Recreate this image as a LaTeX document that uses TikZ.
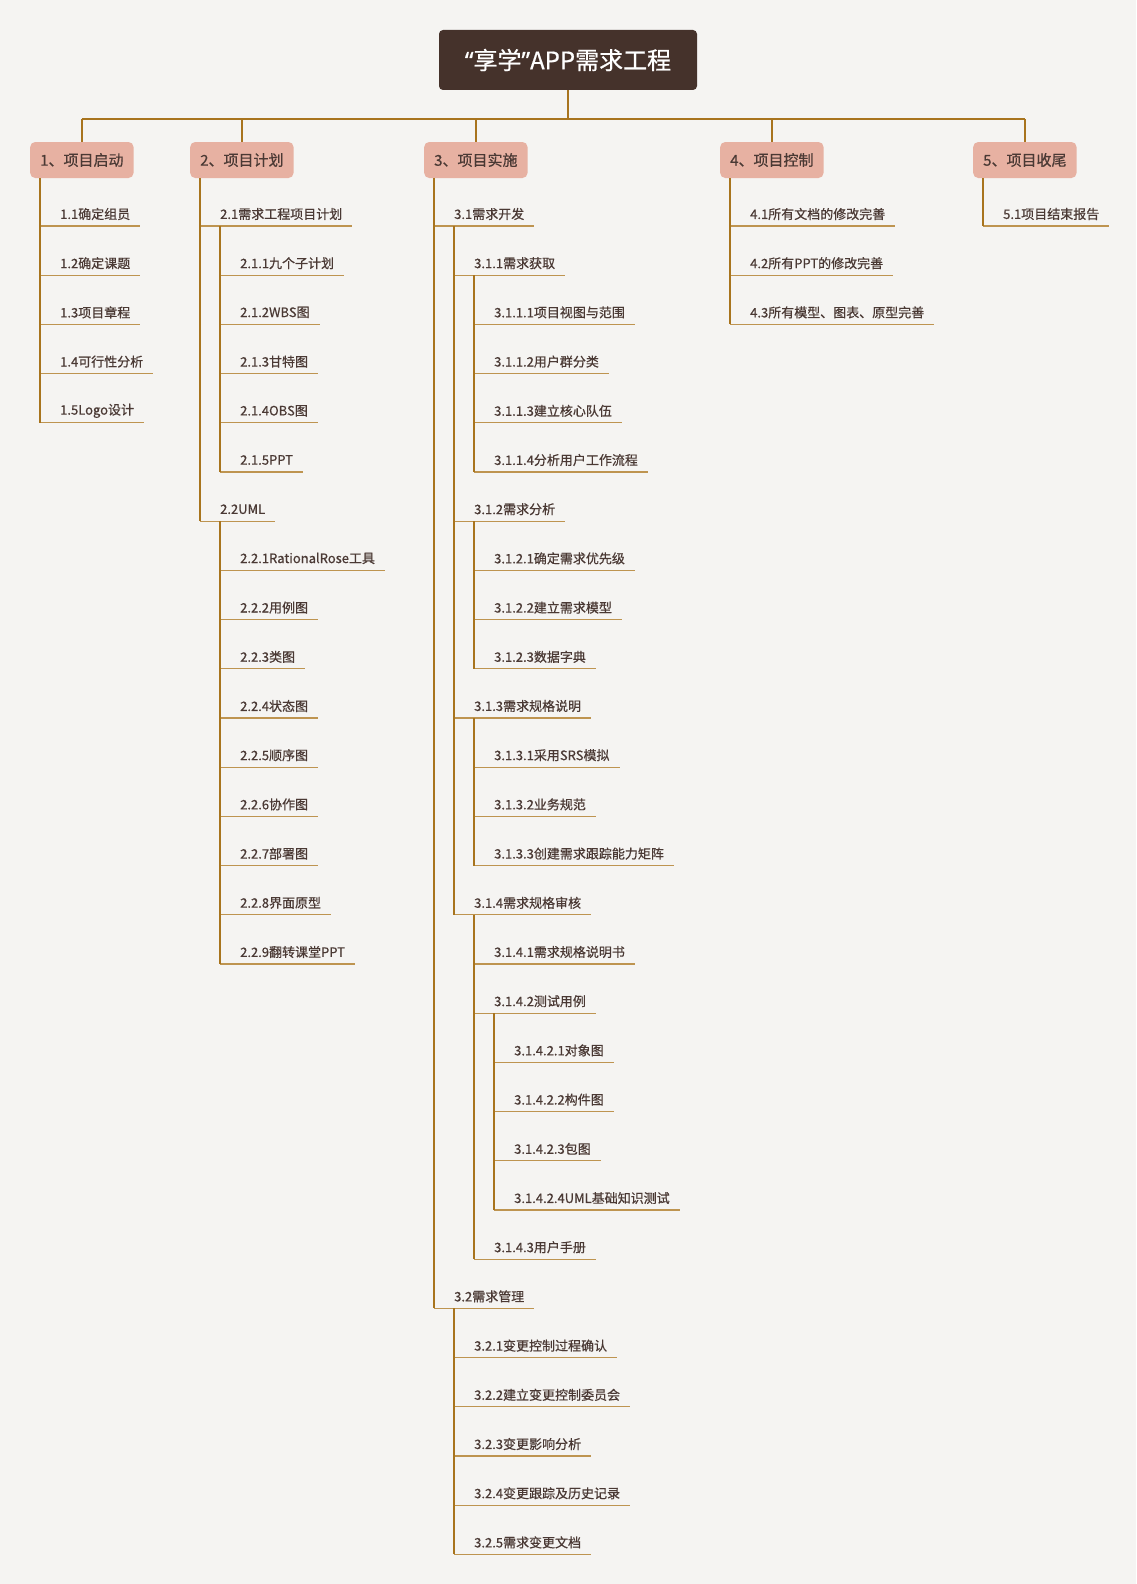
\documentclass[tikz,border=0pt]{standalone}
\usepackage{fontspec}
\setmainfont{Noto Sans CJK SC}[FakeBold=0.6]
\newfontfamily\quotefont{Noto Sans}[FakeBold=0.6]
\usetikzlibrary{calc}

\definecolor{paper}{HTML}{F5F4F2}
\definecolor{rootbrown}{HTML}{45322B}
\definecolor{boxpink}{HTML}{E7B1A2}
\definecolor{inkbrown}{HTML}{4A3934}
\definecolor{linegold}{HTML}{A8741E}
\definecolor{leafgold}{HTML}{BE9450}

\begin{document}
\begin{tikzpicture}[x=1pt,y=-1pt,
    rootbox/.style={fill=rootbrown,text=white,rounded corners=4pt,
      minimum width=258pt,minimum height=60pt,font=\fontsize{24}{28}\selectfont},
    topicbox/.style={fill=boxpink,text=inkbrown,rounded corners=5pt,anchor=west,
      minimum height=36pt,inner xsep=10pt,font=\fontsize{15}{18}\selectfont},
    item/.style={text=inkbrown,inner sep=0pt,anchor=west,font=\fontsize{13}{15}\selectfont},
    trunk/.style={linegold,line width=2pt},
    vline/.style={linegold,line width=1.3pt},
    uline/.style={leafgold,line width=1.3pt}]
  \fill[paper] (0,0) rectangle (1136,1584);
  \useasboundingbox (0,0) rectangle (1136,1584);

  % root and main topics
  \node[rootbox] (root) at (568,60) {{\quotefont “}享学{\quotefont ”}APP需求工程};
  \node[topicbox] (t1) at (30,160) {1、项目启动};
  \node[topicbox] (t2) at (190,160) {2、项目计划};
  \node[topicbox] (t3) at (424,160) {3、项目实施};
  \node[topicbox] (t4) at (720,160) {4、项目控制};
  \node[topicbox] (t5) at (973,160) {5、项目收尾};

  \coordinate (bar) at ($(root.south)+(0,29)$);
  \draw[trunk] (root.south) -- (bar);
  \draw[trunk] (bar -| t1.north) -- (bar -| t5.north);
  \foreach \t in {t1,t2,t3,t4,t5}
    \draw[trunk] (bar -| \t.north) -- (\t.north);

  % sub topics, underlined
  \foreach \name/\xv/\row/\txt in {
      i11/40/0/1.1确定组员, i12/40/1/1.2确定课题, i13/40/2/1.3项目章程,
      i14/40/3/1.4可行性分析, i15/40/4/1.5Logo设计,
      i21/200/0/2.1需求工程项目计划,
      i211/220/1/2.1.1九个子计划, i212/220/2/2.1.2WBS图, i213/220/3/2.1.3甘特图,
      i214/220/4/2.1.4OBS图, i215/220/5/2.1.5PPT,
      i22/200/6/2.2UML,
      i221/220/7/2.2.1RationalRose工具, i222/220/8/2.2.2用例图, i223/220/9/2.2.3类图,
      i224/220/10/2.2.4状态图, i225/220/11/2.2.5顺序图, i226/220/12/2.2.6协作图,
      i227/220/13/2.2.7部署图, i228/220/14/2.2.8界面原型, i229/220/15/2.2.9翻转课堂PPT,
      i31/434/0/3.1需求开发,
      i311/454/1/3.1.1需求获取,
      i3111/474/2/3.1.1.1项目视图与范围, i3112/474/3/3.1.1.2用户群分类,
      i3113/474/4/3.1.1.3建立核心队伍, i3114/474/5/3.1.1.4分析用户工作流程,
      i312/454/6/3.1.2需求分析,
      i3121/474/7/3.1.2.1确定需求优先级, i3122/474/8/3.1.2.2建立需求模型,
      i3123/474/9/3.1.2.3数据字典,
      i313/454/10/3.1.3需求规格说明,
      i3131/474/11/3.1.3.1采用SRS模拟, i3132/474/12/3.1.3.2业务规范,
      i3133/474/13/3.1.3.3创建需求跟踪能力矩阵,
      i314/454/14/3.1.4需求规格审核,
      i3141/474/15/3.1.4.1需求规格说明书, i3142/474/16/3.1.4.2测试用例,
      i31421/494/17/3.1.4.2.1对象图, i31422/494/18/3.1.4.2.2构件图,
      i31423/494/19/3.1.4.2.3包图, i31424/494/20/3.1.4.2.4UML基础知识测试,
      i3143/474/21/3.1.4.3用户手册,
      i32/434/22/3.2需求管理,
      i321/454/23/3.2.1变更控制过程确认, i322/454/24/3.2.2建立变更控制委员会,
      i323/454/25/3.2.3变更影响分析, i324/454/26/3.2.4变更跟踪及历史记录,
      i325/454/27/3.2.5需求变更文档,
      i41/730/0/4.1所有文档的修改完善, i42/730/1/4.2所有PPT的修改完善,
      i43/730/2/4.3所有模型、图表、原型完善,
      i51/983/0/5.1项目结束报告}{
    \node[item] (\name) at (\xv+20,214+49.2*\row) {\txt};
    \coordinate (\name-u) at ([shift={(-20pt,-12pt)}]\name.west);
    \coordinate (\name-e) at ([shift={(10pt,-12pt)}]\name.east);
    \draw[uline] (\name-u) -- (\name-e);
  }

  % branch lines
  \foreach \t/\last in {t1/i15,t2/i22,t3/i32,t4/i43,t5/i51}
    \draw[vline] ([xshift=10pt]\t.south west) -- (\last-u);
  \foreach \p/\last in {i21/i215,i22/i229,i31/i314,i311/i3114,i312/i3123,
      i313/i3133,i314/i3143,i3142/i31424,i32/i325}
    \draw[vline] (\p.west |- \p-u) -- (\last-u);
\end{tikzpicture}
\end{document}
